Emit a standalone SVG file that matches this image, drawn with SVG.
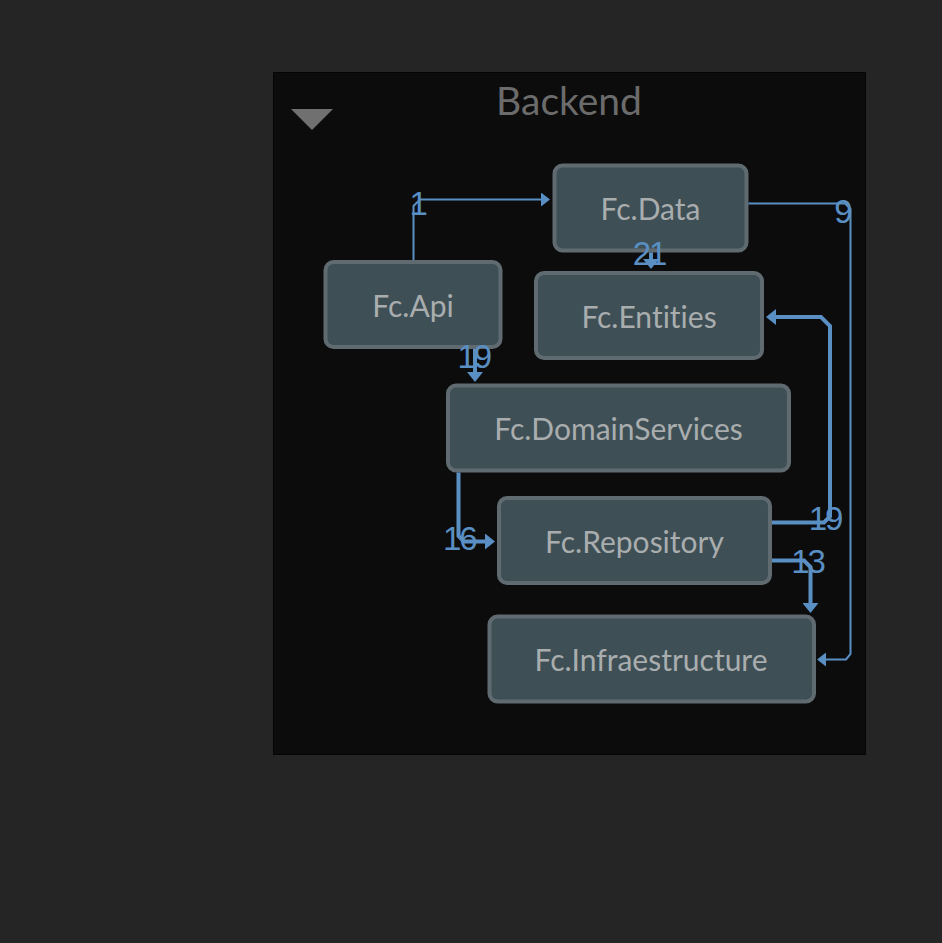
<svg xmlns="http://www.w3.org/2000/svg" width="942" height="943" viewBox="0 0 942 943">
<defs>
<style>
.node rect{fill:#3e4f56;stroke:#5f6b71;stroke-width:4}
.node text{font-family:Lato,"Open Sans",sans-serif;font-size:30px;fill:#a9adae;text-anchor:middle;font-variant-ligatures:none;font-feature-settings:"liga" 0,"clig" 0}
.edge{fill:none;stroke:#5a8fc3}
.thin{stroke-width:2}
.thick{stroke-width:4}
.lbl{font-family:"Liberation Sans",Arial,sans-serif;font-size:33px;fill:#5a8fc3;letter-spacing:-2px}
</style>
<marker id="ah" markerUnits="userSpaceOnUse" markerWidth="10" markerHeight="16" refX="4" refY="8" orient="auto" viewBox="0 0 10 16">
<path d="M0,0 L10,8 L0,16 z" fill="#5a8fc3"/>
</marker>
<marker id="ahs" markerUnits="userSpaceOnUse" markerWidth="9" markerHeight="14" refX="3" refY="7" orient="auto" viewBox="0 0 9 14">
<path d="M0,0 L9,7 L0,14 z" fill="#5a8fc3"/>
</marker>
</defs>
<rect x="0" y="0" width="942" height="943" fill="#252525"/>
<g id="backend">
<rect x="273.5" y="72.5" width="592" height="682" fill="#0c0c0c" stroke="#050505" stroke-width="1"/>
<text x="569" y="115" font-family="Lato,'Open Sans',sans-serif" font-size="39" fill="#6b6b6b" text-anchor="middle">Backend</text>
<polygon points="291,109 333,109 312,130" fill="#707070"/>
</g>
<g id="fc-data" class="node"><rect x="554.5" y="165.5" width="192" height="85" rx="8"/><text x="650.5" y="220">Fc.Data</text></g>
<g id="fc-api" class="node"><rect x="325.5" y="262" width="175" height="85" rx="8"/><text x="413" y="316.5">Fc.Api</text></g>
<g id="fc-entities" class="node"><rect x="536" y="273" width="226" height="85" rx="8"/><text x="649" y="327.5">Fc.Entities</text></g>
<g id="fc-domainservices" class="node"><rect x="448" y="385.5" width="341" height="85" rx="8"/><text x="618.5" y="440">Fc.DomainServices</text></g>
<g id="fc-repository" class="node"><rect x="499" y="498" width="271" height="85" rx="8"/><text x="634.5" y="552.5">Fc.Repository</text></g>
<g id="fc-infraestructure" class="node"><rect x="489.5" y="616.5" width="324.5" height="85" rx="8"/><text x="651" y="671">Fc.Infraestructure</text></g>
<g id="connectors">
<path class="edge thin" d="M413.5,260 V206 L420,199.5 H544" marker-end="url(#ahs)"/>
<path class="edge thin" d="M748.5,203.5 H845 L850.5,209 V654 L846,659.5 H823" marker-end="url(#ahs)"/>
<path class="edge thick" d="M651,252.5 V263" marker-end="url(#ah)"/>
<path class="edge thick" d="M475,349 V376" marker-end="url(#ah)"/>
<path class="edge thick" d="M458.5,472.5 V536 L464,541.5 H489" marker-end="url(#ah)"/>
<path class="edge thick" d="M772,522.5 H824 L830,516.5 V326 L821,317 H772" marker-end="url(#ah)"/>
<path class="edge thick" d="M772,560.5 H804 L810.5,567 V607" marker-end="url(#ah)"/>
<text class="lbl" x="409.5" y="215">1</text>
<text class="lbl" x="834.3" y="223.3">9</text>
<text class="lbl" x="632.7" y="265.3">21</text>
<text class="lbl" x="457.5" y="368.3">19</text>
<text class="lbl" x="443" y="550">16</text>
<text class="lbl" x="808.7" y="530">19</text>
<text class="lbl" x="791.2" y="573.3">13</text>
</g>
</svg>
